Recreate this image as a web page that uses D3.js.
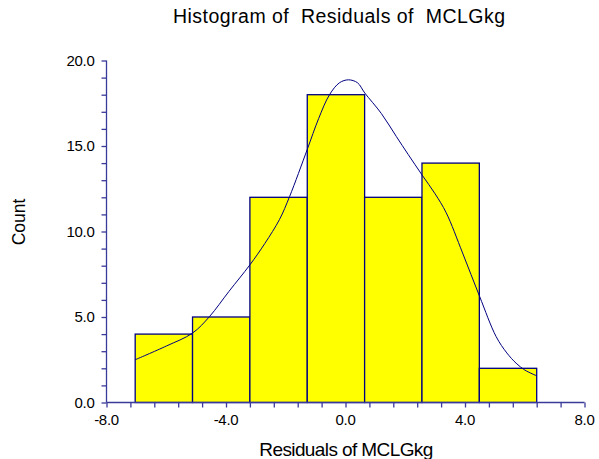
<!DOCTYPE html>
<html><head><meta charset="utf-8">
<script src="https://cdn.jsdelivr.net/npm/d3@7"></script>
<style>body{margin:0;background:#fff}svg{display:block}text{font-family:"Liberation Sans",Arial,sans-serif;fill:#000}</style>
</head><body><svg id="c" width="599" height="459"></svg>
<script>
// Histogram bins (lower edges, width) and counts
const binStarts = [-7.04, -5.12, -3.20, -1.28, 0.64, 2.56, 4.48];
const binWidth = 1.92;
const counts = [4, 5, 12, 18, 12, 14, 2];
// Density curve (scaled to counts)
const curveX = [-7.04, -6.0, -5.12, -4.55, -3.9, -3.20, -2.7, -2.21, -1.87, -1.28, -0.9, -0.535, -0.2, 0.10, 0.4, 0.645, 1.2, 1.70, 2.1, 2.565, 3.0, 3.37, 3.92, 4.49, 5.04, 5.4, 5.71, 6.0, 6.40];
const curveY = [2.5, 3.3, 4.06, 5.03, 6.5, 8.05, 9.3, 10.7, 12.05, 14.8, 16.6, 18.0, 18.7, 18.87, 18.7, 18.1, 16.9, 15.56, 14.5, 13.3, 12.2, 11.1, 8.74, 6.2, 3.86, 2.9, 2.3, 1.9, 1.56];
const xTicks = [-8, -4, 0, 4, 8];
const yTicks = [0, 5, 10, 15, 20];

const svg = d3.select("#c");
const x = d3.scaleLinear().domain([-8, 8]).range([106.5, 584.5]);
const y = d3.scaleLinear().domain([0, 20]).range([402.5, 60.5]);
const axisColor = "#3a3a9a";

// bars
svg.append("g").selectAll("rect").data(counts).join("rect")
  .attr("x", (d, i) => x(binStarts[i]))
  .attr("y", d => y(d))
  .attr("width", (d, i) => x(binStarts[i] + binWidth) - x(binStarts[i]))
  .attr("height", d => y(0) - y(d))
  .attr("fill", "#ffff00").attr("stroke", "#000080").attr("stroke-width", 1.3);

// curve
svg.append("path").datum(curveX.map((v, i) => [v, curveY[i]]))
  .attr("d", d3.line().x(d => x(d[0])).y(d => y(d[1])).curve(d3.curveCatmullRom))
  .attr("fill", "none").attr("stroke", "#000080").attr("stroke-width", 1);

// x axis
const xAxis = svg.append("g").attr("transform", `translate(0,${y(0)})`)
  .call(d3.axisBottom(x).tickValues(d3.range(-8, 8.01, 0.8)).tickSize(5).tickFormat(""));
xAxis.select(".domain").attr("stroke", axisColor).attr("stroke-width", 1.3).attr("d", `M${x(-8)},0H${x(8)}`);
xAxis.selectAll(".tick line").attr("stroke", axisColor).attr("stroke-width", 1.3);
svg.append("g").selectAll("text").data(xTicks).join("text")
  .attr("x", d => x(d)).attr("y", y(0) + 22).attr("text-anchor", "middle")
  .style("font-size", "15px").style("letter-spacing", "-0.3px").text(d => d.toFixed(1));

// y axis
const yAxis = svg.append("g").attr("transform", `translate(${x(-8)},0)`)
  .call(d3.axisLeft(y).tickValues(d3.range(0, 20.01, 1)).tickSize(5).tickFormat(""));
yAxis.select(".domain").attr("stroke", axisColor).attr("stroke-width", 1.3).attr("d", `M0,${y(0)}V${y(20)}`);
yAxis.selectAll(".tick line").attr("stroke", axisColor).attr("stroke-width", 1.3);
svg.append("g").selectAll("text").data(yTicks).join("text")
  .attr("x", x(-8) - 12).attr("y", d => y(d) + 5).attr("text-anchor", "end")
  .style("font-size", "15px").style("letter-spacing", "-0.3px").text(d => d.toFixed(1));

// titles
svg.append("text").attr("x", 339).attr("y", 23).attr("text-anchor", "middle")
  .attr("textLength", 332).attr("lengthAdjust", "spacing")
  .style("font-size", "19.5px").attr("xml:space", "preserve").text("Histogram of  Residuals of  MCLGkg");
svg.append("text").attr("x", 346).attr("y", 456).attr("text-anchor", "middle")
  .style("font-size", "19px").style("letter-spacing", "-0.6px").text("Residuals of MCLGkg");
svg.append("text").attr("transform", "translate(25,222) rotate(-90)").attr("text-anchor", "middle")
  .style("font-size", "17.5px").text("Count");
</script></body></html>
